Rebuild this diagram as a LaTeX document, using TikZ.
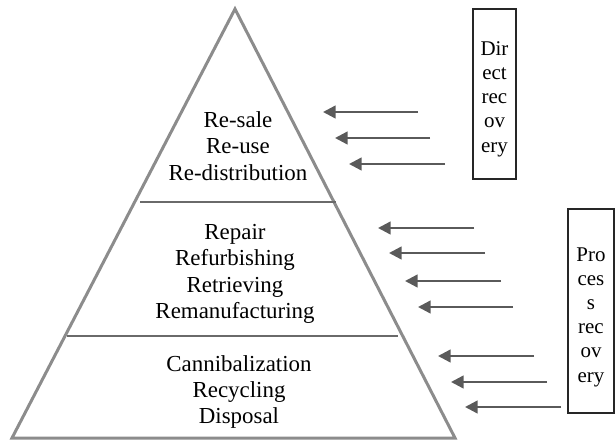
\documentclass[tikz,border=0pt]{standalone}
\usepackage{fontspec}
\setmainfont{Liberation Serif}
\usetikzlibrary{arrows.meta,positioning}
\definecolor{pyrgray}{HTML}{8C8C8C}
\definecolor{linegray}{HTML}{6A6A6A}
\definecolor{arrowgray}{HTML}{5A5A5A}
\tikzset{
  tier/.style={align=center,inner sep=0pt,font=\fontsize{23}{26.5}\selectfont},
  recbox/.style={draw=black!85,line width=1.5bp,inner sep=0pt,minimum width=43bp},
  rectext/.style={align=center,inner sep=0pt,font=\fontsize{21}{24.3}\selectfont},
  recarrow/.style={arrowgray,line width=2.4bp,-{Triangle[length=12.5bp,width=12.5bp]}},
}

\begin{document}
\begin{tikzpicture}[x=1bp,y=-1bp]
    \useasboundingbox (0,0) rectangle (616,441);
    % pyramid
    \coordinate (apex) at (235,9);
    \coordinate (bl)   at (12,438);
    \coordinate (br)   at (455,438);
    \draw[pyrgray,line width=3bp,line join=miter] (apex) -- (bl) -- (br) -- cycle;
    \coordinate (d1l) at (140,202);
    \coordinate (d1r) at (336,202);
    \coordinate (d2l) at (67,336);
    \coordinate (d2r) at (398,336);
    \draw[linegray,line width=1.2bp] (d1l) -- (d1r);
    \draw[linegray,line width=1.2bp] (d2l) -- (d2r);
    %
    \node[tier] (direct)  at (238,146) {Re-sale\\Re-use\\Re-distribution};
    \node[tier] (process) at (235,274) {Repair\\Refurbishing\\Retrieving\\Remanufacturing};
    \node[tier] (final)   at (239,392) {Cannibalization\\Recycling\\Disposal};
    %
    \node[recbox,minimum height=170bp] (dirbox) at (494.5,94) {};
    \node[rectext] (dirtext) at ([yshift=-5bp]dirbox.center) {Dir\\ect\\rec\\ov\\ery};
    \node[recbox,minimum width=46bp,minimum height=204bp] (probox) at (591,311) {};
    \node[rectext] (protext) at ([yshift=-6bp]probox.center) {Pro\\ces\\s\\rec\\ov\\ery};
    %
    \foreach \tx/\hx/\y [count=\i] in {418/323/112, 430/335/138, 445/349/164,
                                       474/378/228, 485/389/253, 501/405/281, 513/418/307,
                                       534/438/356, 547/451/382, 561/465/407} {
        \coordinate (tail\i) at (\tx,\y);
        \coordinate (head\i) at (\hx,\y);
        \draw[recarrow] (tail\i) -- (head\i);
    }
\end{tikzpicture}
\end{document}
